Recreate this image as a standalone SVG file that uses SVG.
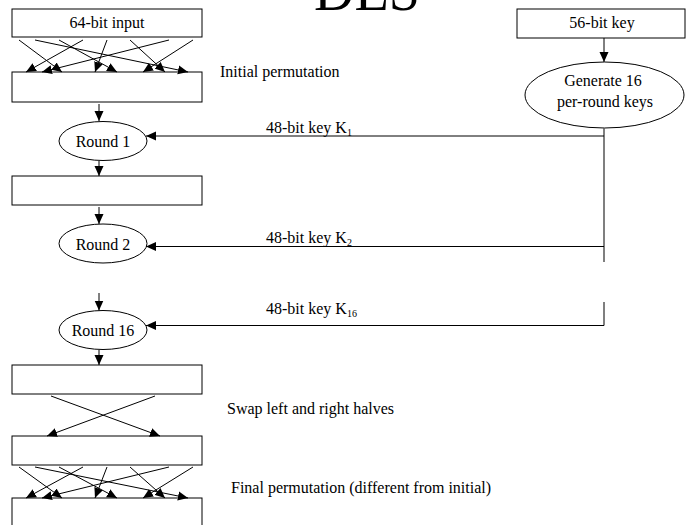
<svg xmlns="http://www.w3.org/2000/svg" width="686" height="525" viewBox="0 0 686 525">
<style>
  .box{fill:#fff;stroke:#000;stroke-width:1}
  .ell{fill:#fff;stroke:#000;stroke-width:1}
  .t{font-family:"Liberation Serif","Times New Roman",serif;font-size:16px;fill:#000}
  .c{text-anchor:middle}
  .ar{stroke:#000;stroke-width:1;fill:none;marker-end:url(#ah)}
  .key{stroke:#555;stroke-width:1.5;fill:none}
</style>
<defs>
  <marker id="ah" viewBox="0 0 10 10" refX="10" refY="5" markerWidth="10" markerHeight="10" orient="auto" markerUnits="userSpaceOnUse">
    <path d="M0,0.5 L10,5 L0,9.5 z" fill="#000"/>
  </marker>
</defs>
<rect width="686" height="525" fill="#fff"/>
<text x="367" y="10" class="t c" style="font-size:56px">DES</text>

<g id="input"><rect class="box" x="12" y="9" width="190" height="28"/><text class="t c" x="107" y="28">64-bit input</text></g>
<g id="initperm"><rect class="box" x="12" y="72" width="190" height="30"/></g>
<text class="t" x="220" y="77">Initial permutation</text>
<g id="round1"><ellipse class="ell" cx="103" cy="141" rx="44" ry="19.5"/><text class="t c" x="103" y="147">Round 1</text></g>
<g id="box1"><rect class="box" x="12" y="176" width="190" height="29"/></g>
<g id="round2"><ellipse class="ell" cx="103" cy="243.5" rx="44" ry="19.5"/><text class="t c" x="103" y="249.5">Round 2</text></g>
<g id="round16"><ellipse class="ell" cx="103" cy="330" rx="44" ry="19.5"/><text class="t c" x="103" y="336">Round 16</text></g>
<g id="box16"><rect class="box" x="12" y="365" width="190" height="29"/></g>
<text class="t" x="227" y="414">Swap left and right halves</text>
<g id="swapped"><rect class="box" x="12" y="436" width="190" height="29"/></g>
<text class="t" x="231" y="493">Final permutation (different from initial)</text>
<g id="output"><rect class="box" x="12" y="498" width="190" height="32"/></g>
<g id="key56"><rect class="box" x="517" y="9" width="168" height="29"/><text class="t c" x="602" y="28">56-bit key</text></g>
<g id="keygen"><ellipse class="ell" cx="604.5" cy="95" rx="79.5" ry="33"/><text class="t c" x="603" y="86">Generate 16</text><text class="t c" x="605" y="107">per-round keys</text></g>

<g id="connectors">
  <line class="ar" x1="19" y1="40" x2="62" y2="72"/>
  <line class="ar" x1="35" y1="40" x2="188" y2="72"/>
  <line class="ar" x1="59" y1="40" x2="117" y2="72"/>
  <line class="ar" x1="83" y1="40" x2="26" y2="72"/>
  <line class="ar" x1="107" y1="40" x2="95" y2="72"/>
  <line class="ar" x1="130" y1="40" x2="165" y2="72"/>
  <line class="ar" x1="169" y1="40" x2="42" y2="72"/>
  <line class="ar" x1="193" y1="40" x2="143" y2="72"/>

  <line class="ar" x1="99" y1="104" x2="99" y2="121"/>
  <line class="ar" x1="99" y1="161" x2="99" y2="176"/>
  <line class="ar" x1="99" y1="207" x2="99" y2="224"/>
  <line class="ar" x1="99" y1="293" x2="99" y2="310.5"/>
  <line class="ar" x1="99" y1="350" x2="99" y2="365"/>

  <line class="ar" x1="51" y1="396" x2="160" y2="436"/>
  <line class="ar" x1="155" y1="396" x2="47" y2="436"/>

  <line class="ar" x1="19" y1="467" x2="62" y2="498"/>
  <line class="ar" x1="35" y1="467" x2="188" y2="498"/>
  <line class="ar" x1="59" y1="467" x2="117" y2="498"/>
  <line class="ar" x1="83" y1="467" x2="26" y2="498"/>
  <line class="ar" x1="107" y1="467" x2="95" y2="498"/>
  <line class="ar" x1="130" y1="467" x2="165" y2="498"/>
  <line class="ar" x1="169" y1="467" x2="42" y2="498"/>
  <line class="ar" x1="193" y1="467" x2="143" y2="498"/>

  <line class="ar" x1="604" y1="38" x2="604" y2="62"/>
  <line class="key" x1="604" y1="128" x2="604" y2="262"/>
  <line class="key" x1="604" y1="302" x2="604" y2="325.5"/>
  <line class="ar" x1="604" y1="136" x2="146" y2="136"/>
  <line class="ar" x1="604" y1="246.5" x2="146" y2="246.5"/>
  <line class="ar" x1="604" y1="325.5" x2="146" y2="325.5"/>
  <text class="t" x="266" y="133">48-bit key K<tspan style="font-size:10px" dy="3">1</tspan></text>
  <text class="t" x="266" y="243">48-bit key K<tspan style="font-size:10px" dy="3">2</tspan></text>
  <text class="t" x="266" y="314">48-bit key K<tspan style="font-size:10px" dy="3">16</tspan></text>
</g>
</svg>
